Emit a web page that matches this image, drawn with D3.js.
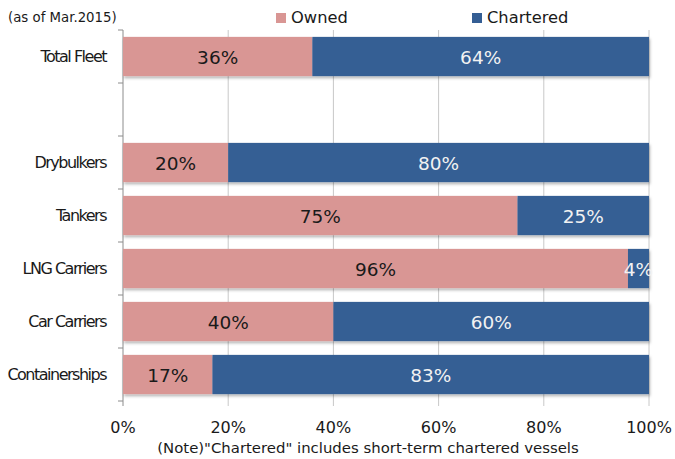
<!DOCTYPE html>
<html>
<head>
<meta charset="utf-8">
<script src="https://cdn.jsdelivr.net/npm/d3@7"></script>
<style>
  body { margin: 0; background: #fff; }
  text { font-family: "DejaVu Sans", Verdana, sans-serif; }
</style>
</head>
<body>
<div id="chart"></div>
<script>
// categories (blank row separates the total from the ship types)
const categories = ['Total Fleet', '', 'Drybulkers', 'Tankers', 'LNG Carriers', 'Car Carriers', 'Containerships'];
const owned = [36, null, 20, 75, 96, 40, 17];
const chartered = [64, null, 80, 25, 4, 60, 83];
const xTicks = [0, 20, 40, 60, 80, 100];
const seriesNames = ['Owned', 'Chartered'];

const width = 675, height = 459;
const margin = { top: 30, right: 26, bottom: 58, left: 123 };
const colors = { owned: '#D99694', chartered: '#345E94' };

const svg = d3.select('#chart').append('svg')
  .attr('width', width)
  .attr('height', height);

// soft drop shadow under bars
const defs = svg.append('defs');
const f = defs.append('filter').attr('id', 'shadow')
  .attr('x', '-5%').attr('y', '-10%').attr('width', '110%').attr('height', '140%');
f.append('feDropShadow').attr('dx', 1).attr('dy', 2).attr('stdDeviation', 1.5)
  .attr('flood-color', '#000').attr('flood-opacity', 0.3);

const x = d3.scaleLinear().domain([0, 100]).range([margin.left, width - margin.right]);
const y = d3.scaleBand().domain(categories.map((c, i) => i))
  .range([margin.top, height - margin.bottom]).paddingInner(0.26).paddingOuter(0.13);

const plotBottom = height - margin.bottom;

// vertical gridlines
svg.append('g').selectAll('line')
  .data(xTicks.slice(1))
  .enter().append('line')
  .attr('x1', d => x(d)).attr('x2', d => x(d))
  .attr('y1', margin.top).attr('y2', plotBottom + 5)
  .attr('stroke', '#c8c8c8').attr('stroke-width', 1);

// y axis line with band ticks
const yAxis = svg.append('g');
yAxis.append('line')
  .attr('x1', x(0)).attr('x2', x(0))
  .attr('y1', margin.top).attr('y2', plotBottom + 5)
  .attr('stroke', '#8c8c8c');
const step = y.step();
yAxis.selectAll('.tk')
  .data(d3.range(categories.length + 1))
  .enter().append('line')
  .attr('x1', x(0) - 5).attr('x2', x(0))
  .attr('y1', i => margin.top + i * step)
  .attr('y2', i => margin.top + i * step)
  .attr('stroke', '#8c8c8c');

// category labels (condensed like the original)
svg.append('g').selectAll('text')
  .data(categories)
  .enter().append('text')
  .attr('x', 106)
  .attr('y', (d, i) => y(i) + y.bandwidth() / 2)
  .attr('dy', '0.35em')
  .attr('text-anchor', 'end')
  .attr('font-size', 16)
  .attr('letter-spacing', -1.5)
  .attr('fill', '#1a1a1a')
  .text(d => d);

const rows = categories.map((c, i) => ({ i, owned: owned[i], chartered: chartered[i] }))
  .filter(d => d.owned !== null);

const bars = svg.append('g').attr('filter', 'url(#shadow)');
bars.selectAll('.own')
  .data(rows).enter().append('rect')
  .attr('x', x(0))
  .attr('y', d => y(d.i))
  .attr('width', d => x(d.owned) - x(0))
  .attr('height', y.bandwidth())
  .attr('fill', colors.owned);
bars.selectAll('.chr')
  .data(rows).enter().append('rect')
  .attr('x', d => x(d.owned))
  .attr('y', d => y(d.i))
  .attr('width', d => x(d.owned + d.chartered) - x(d.owned))
  .attr('height', y.bandwidth())
  .attr('fill', colors.chartered);

// value labels
const labels = svg.append('g').attr('font-size', 18.5);
labels.selectAll('.ol')
  .data(rows).enter().append('text')
  .attr('x', d => x(d.owned / 2))
  .attr('y', d => y(d.i) + y.bandwidth() / 2 + 1)
  .attr('dy', '0.36em')
  .attr('text-anchor', 'middle')
  .attr('fill', '#1a1a1a')
  .text(d => d.owned + '%');
labels.selectAll('.cl')
  .data(rows).enter().append('text')
  .attr('x', d => x(d.owned + d.chartered / 2))
  .attr('y', d => y(d.i) + y.bandwidth() / 2 + 1)
  .attr('dy', '0.36em')
  .attr('text-anchor', 'middle')
  .attr('fill', '#f2f2f2')
  .text(d => d.chartered + '%');

// x tick labels
svg.append('g').selectAll('text')
  .data(xTicks).enter().append('text')
  .attr('x', d => x(d))
  .attr('y', 427)
  .attr('dy', '0.35em')
  .attr('text-anchor', 'middle')
  .attr('font-size', 16)
  .attr('fill', '#1a1a1a')
  .text(d => d + '%');

// note
svg.append('text')
  .attr('x', 368).attr('y', 448)
  .attr('dy', '0.35em')
  .attr('text-anchor', 'middle')
  .attr('font-size', 14.9)
  .attr('fill', '#1a1a1a')
  .text('(Note)"Chartered" includes short-term chartered vessels');

// date note
svg.append('text')
  .attr('x', 8).attr('y', 17)
  .attr('dy', '0.35em')
  .attr('font-size', 13.3)
  .attr('fill', '#1a1a1a')
  .text('(as of Mar.2015)');

// legend
const legendX = [276, 472];
const legend = svg.append('g');
seriesNames.forEach((name, k) => {
  legend.append('rect')
    .attr('x', legendX[k]).attr('y', 13)
    .attr('width', 10).attr('height', 10)
    .attr('fill', k === 0 ? colors.owned : colors.chartered);
  legend.append('text')
    .attr('x', legendX[k] + 15).attr('y', 17)
    .attr('dy', '0.35em')
    .attr('font-size', 16.3)
    .attr('fill', '#1a1a1a')
    .text(name);
});
</script>
</body>
</html>
